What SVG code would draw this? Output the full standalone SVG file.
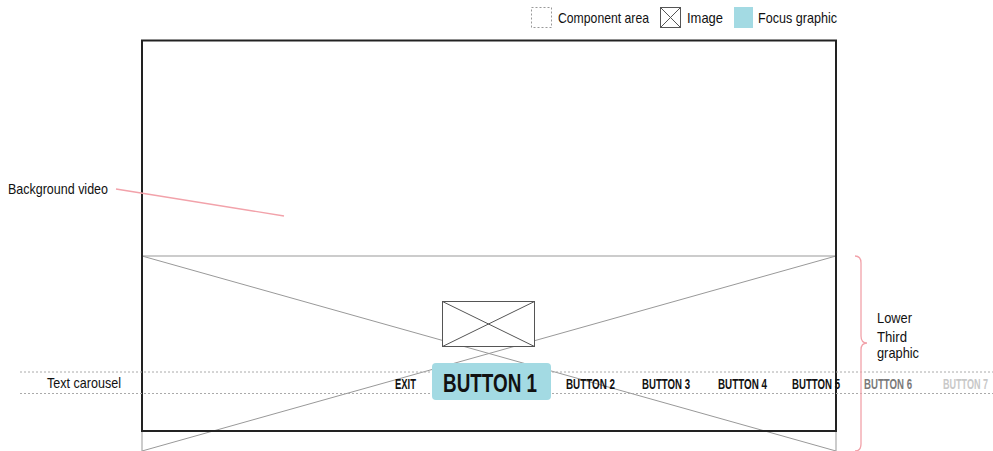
<svg xmlns="http://www.w3.org/2000/svg" width="993" height="451" viewBox="0 0 993 451">
<style>
  text { font-family: "Liberation Sans Narrow", "Liberation Sans", Arial, sans-serif; fill: #111; }
  .lbl { font-size: 15px; }
  .btn { font-size: 14px; font-weight: bold; }
  .thin { fill: none; stroke: #999; stroke-width: 1; }
  .dot { fill: none; stroke: #aaa; stroke-width: 1; stroke-dasharray: 2 2; }
  .pink { fill: none; stroke: #f2a2aa; stroke-width: 1.3; }
  .img { fill: #fff; stroke: #555; stroke-width: 1; }
</style>
<rect width="993" height="451" fill="#fff"/>

<g id="legend">
  <rect x="531.5" y="7.5" width="20" height="20" fill="none" stroke="#999" stroke-width="1" stroke-dasharray="2 2"/>
  <text class="lbl" x="558" y="23" textLength="91" lengthAdjust="spacingAndGlyphs">Component area</text>
  <rect x="660.5" y="7.5" width="20" height="20" class="img"/>
  <path d="M660.5,7.5 L680.5,27.5 M680.5,7.5 L660.5,27.5" stroke="#555" stroke-width="1"/>
  <text class="lbl" x="687" y="23" textLength="36" lengthAdjust="spacingAndGlyphs">Image</text>
  <rect x="734" y="7" width="19" height="21" fill="#a3dae3"/>
  <text class="lbl" x="758" y="23" textLength="79" lengthAdjust="spacingAndGlyphs">Focus graphic</text>
</g>

<g id="lower-third">
  <rect x="142" y="256" width="694" height="200" class="thin" stroke="#aaa"/>
  <path d="M142,256 L836,451 M142,451 L836,256" class="thin"/>
</g>

<g id="frame">
  <rect x="142" y="40.5" width="694" height="390.5" fill="none" stroke="#222" stroke-width="2"/>
</g>

<g id="image-box">
  <rect x="442.5" y="301.5" width="92" height="45" class="img"/>
  <path d="M442.5,301.5 L534.5,346.5 M534.5,301.5 L442.5,346.5" stroke="#555" stroke-width="1"/>
</g>

<g id="connectors">
  <line x1="20" y1="372" x2="993" y2="372" class="dot"/>
  <line x1="20" y1="393.5" x2="993" y2="393.5" class="dot"/>
  <line x1="116" y1="189" x2="284" y2="216" class="pink"/>
  <path d="M855,256 Q861,256 861,263 L861,336 Q861,343 867,343 Q861,343 861,350 L861,444 Q861,451 855,451" class="pink"/>
</g>

<g id="focus">
  <rect x="432" y="363" width="119" height="37" rx="4" fill="#a3dae3"/>
</g>

<g id="labels">
  <text class="lbl" x="8" y="194" textLength="100" lengthAdjust="spacingAndGlyphs">Background video</text>
  <text class="lbl" x="47" y="388" textLength="74" lengthAdjust="spacingAndGlyphs">Text carousel</text>
  <text class="lbl" x="877" y="323" textLength="35" lengthAdjust="spacingAndGlyphs">Lower</text>
  <text class="lbl" x="877" y="341.5" textLength="30" lengthAdjust="spacingAndGlyphs">Third</text>
  <text class="lbl" x="877" y="358" textLength="42" lengthAdjust="spacingAndGlyphs">graphic</text>
</g>

<g id="carousel">
  <text class="btn" x="395" y="389" textLength="21" lengthAdjust="spacingAndGlyphs">EXIT</text>
  <text x="443" y="391.5" font-size="26" font-weight="bold" textLength="94" lengthAdjust="spacingAndGlyphs">BUTTON 1</text>
  <text class="btn" x="566" y="389" textLength="49" lengthAdjust="spacingAndGlyphs">BUTTON 2</text>
  <text class="btn" x="642" y="389" textLength="48" lengthAdjust="spacingAndGlyphs">BUTTON 3</text>
  <text class="btn" x="718" y="389" textLength="49" lengthAdjust="spacingAndGlyphs">BUTTON 4</text>
  <text class="btn" x="792" y="389" textLength="48" lengthAdjust="spacingAndGlyphs">BUTTON 5</text>
  <text class="btn" x="864" y="389" textLength="48" lengthAdjust="spacingAndGlyphs" style="fill:#7a7a7a">BUTTON 6</text>
  <text class="btn" x="943" y="389" textLength="45" lengthAdjust="spacingAndGlyphs" style="fill:#c8c8c8">BUTTON 7</text>
</g>
</svg>
